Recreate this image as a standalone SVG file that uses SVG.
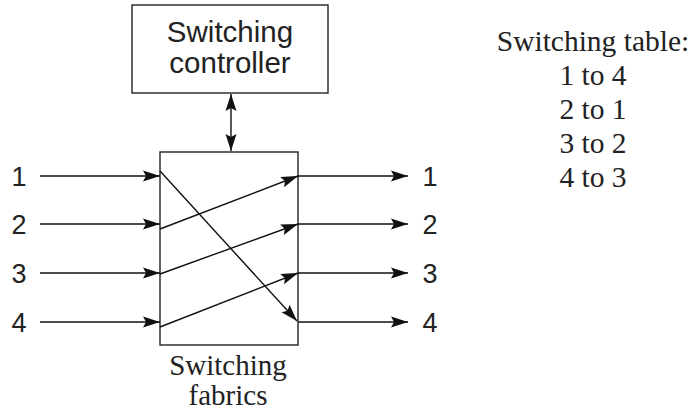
<svg xmlns="http://www.w3.org/2000/svg" width="691" height="414" viewBox="0 0 691 414">
<style>
.box{fill:#fff;stroke:#222;stroke-width:1.4}
.ln{stroke:#111;stroke-width:1.4;fill:none}
.sans{font-family:"Liberation Sans",Arial,sans-serif;fill:#222}
.serif{font-family:"Liberation Serif","Times New Roman",serif;fill:#222}
</style>
<defs>
<marker id="ah" markerUnits="userSpaceOnUse" markerWidth="18" markerHeight="12" refX="17" refY="6" orient="auto-start-reverse" viewBox="0 0 18 12">
<path d="M0,0.5 L17,6 L0,11.5 L3,6 Z" fill="#111"/>
</marker>
</defs>
<rect width="691" height="414" fill="#fff"/>
<g id="controller">
<rect class="box" x="132" y="5" width="196" height="88"/>
<text class="sans" x="230" y="42" font-size="29.5" text-anchor="middle">Switching</text>
<text class="sans" x="230" y="73" font-size="29.5" text-anchor="middle">controller</text>
</g>
<g id="fabric">
<rect class="box" x="160" y="152" width="138" height="193"/>
<text class="serif" x="228" y="375" font-size="29" text-anchor="middle">Switching</text>
<text class="serif" x="228" y="405" font-size="29" text-anchor="middle">fabrics</text>
</g>
<g id="inputs" class="sans" font-size="27" text-anchor="middle">
<text x="19" y="186">1</text>
<text x="19" y="234">2</text>
<text x="19" y="283">3</text>
<text x="19" y="332">4</text>
</g>
<g id="outputs" class="sans" font-size="27" text-anchor="middle">
<text x="430" y="186">1</text>
<text x="430" y="234">2</text>
<text x="430" y="283">3</text>
<text x="430" y="332">4</text>
</g>
<g id="table" class="serif" font-size="29.5" text-anchor="middle">
<text x="593" y="51">Switching table:</text>
<text x="593" y="85">1 to 4</text>
<text x="593" y="119">2 to 1</text>
<text x="593" y="153">3 to 2</text>
<text x="593" y="187">4 to 3</text>
</g>
<g id="connectors" class="ln">
<line x1="231" y1="94" x2="231" y2="151" marker-start="url(#ah)" marker-end="url(#ah)"/>
<line x1="40" y1="176" x2="160" y2="176" marker-end="url(#ah)"/>
<line x1="40" y1="224" x2="160" y2="224" marker-end="url(#ah)"/>
<line x1="40" y1="273" x2="160" y2="273" marker-end="url(#ah)"/>
<line x1="40" y1="322" x2="160" y2="322" marker-end="url(#ah)"/>
<line x1="298" y1="176" x2="408" y2="176" marker-end="url(#ah)"/>
<line x1="298" y1="224" x2="408" y2="224" marker-end="url(#ah)"/>
<line x1="298" y1="273" x2="408" y2="273" marker-end="url(#ah)"/>
<line x1="298" y1="322" x2="408" y2="322" marker-end="url(#ah)"/>
<line x1="160" y1="171" x2="297" y2="321" marker-end="url(#ah)"/>
<line x1="160" y1="229" x2="298" y2="176" marker-end="url(#ah)"/>
<line x1="160" y1="274" x2="298" y2="224" marker-end="url(#ah)"/>
<line x1="160" y1="327" x2="298" y2="273" marker-end="url(#ah)"/>
</g>
</svg>
